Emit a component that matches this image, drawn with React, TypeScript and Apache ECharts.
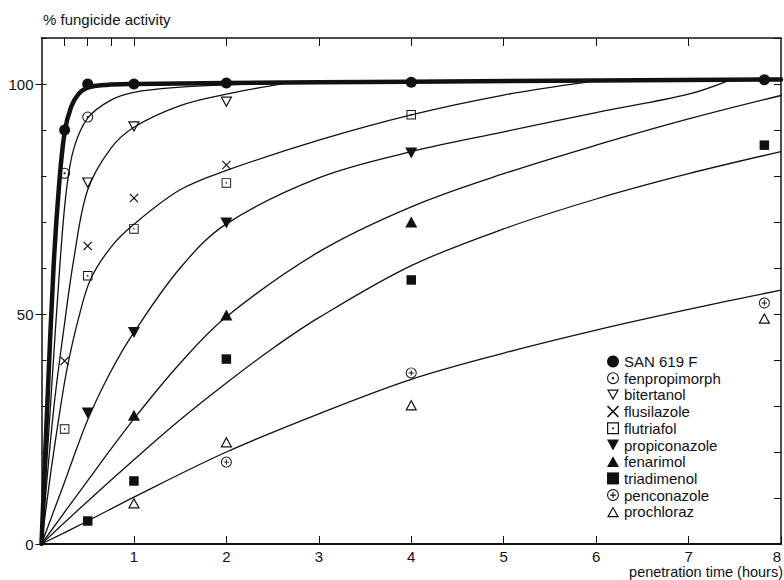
import React, { useEffect, useRef } from "react";
import * as echarts from "echarts";

const FONT = "'Liberation Sans', Arial, Helvetica, sans-serif";
const INK = "#111111";

// ---- tick values ----
const xTopTicks = [0.25, 0.5, 0.75, 1, 2, 3, 4, 5, 6, 7];
const yLabelledTicks = [0, 50, 100];

// ---- legend names ----
const compounds = [
  "SAN 619 F",
  "fenpropimorph",
  "bitertanol",
  "flusilazole",
  "flutriafol",
  "propiconazole",
  "fenarimol",
  "triadimenol",
  "penconazole",
  "prochloraz",
];

// ---- measured points [hours, % activity] ----
const sanPts = [[0.25, 90], [0.5, 100], [1, 100], [2, 100.2], [4, 100.4], [7.82, 100.9]];
const fenpropimorphPts = [[0.25, 80.6], [0.5, 92.8]];
const bitertanolPts = [[0.5, 78.5], [1, 90.7], [2, 96.1]];
const flusilazolePts = [[0.25, 39.8], [0.5, 64.8], [1, 75.2], [2, 82.4]];
const flutriafolPts = [[0.25, 25], [0.5, 58.3], [1, 68.5], [2, 78.5], [4, 93.3]];
const propiconazolePts = [[0.5, 28.5], [1, 46], [2, 69.8], [4, 85]];
const fenarimolPts = [[1, 28], [2, 49.8], [4, 70]];
const triadimenolPts = [[0.5, 5], [1, 13.7], [2, 40.2], [4, 57.4], [7.82, 86.7]];
const penconazolePts = [[2, 17.8], [4, 37.2], [7.82, 52.4]];
const prochlorazPts = [[1, 8.9], [2, 22.2], [4, 30.2], [7.82, 49.1]];

// ---- fitted curves ----
const sanCurve = [[0, 0], [0.06, 29], [0.13, 60], [0.19, 78], [0.25, 89.5], [0.32, 95], [0.4, 97.8], [0.5, 99.2], [0.7, 99.8], [1, 100], [2, 100.2], [4, 100.5], [8, 101]];
const fenpropimorphCurve = [[0, 0], [0.1, 31], [0.2, 61], [0.27, 77], [0.35, 86], [0.5, 92.6], [0.75, 96.5], [1, 98.2], [1.5, 99.3], [2, 99.8], [2.65, 100.2]];
const bitertanolCurve = [[0, 0], [0.13, 29], [0.25, 48], [0.35, 62], [0.5, 77], [0.75, 86], [1, 90.6], [1.5, 95.3], [2, 97.8], [2.65, 100.2]];
const flusFlutCurve = [[0, 0], [0.1, 15.5], [0.2, 29], [0.28, 38.5], [0.4, 49], [0.53, 57.5], [0.75, 64.5], [1, 69.5], [1.5, 77], [2, 81.2], [3, 87.8], [4, 93.3], [5, 97.6], [5.9, 100.4]];
const propiconazoleCurve = [[0, 0], [0.25, 13.5], [0.5, 27], [0.75, 37.5], [1, 46], [1.5, 60], [2, 69.6], [3, 79.6], [4, 85.3], [5, 89.6], [6, 93.8], [7, 97.8], [7.44, 100.8]];
const fenarimolCurve = [[0, 0], [0.5, 13.8], [1, 27.2], [1.5, 39.3], [2, 49.4], [3, 63.5], [4, 73.3], [5, 80.5], [6, 86.7], [7, 92.4], [8, 97.5]];
const triadimenolCurve = [[0, 0], [0.5, 9.3], [1, 18.3], [1.5, 27], [2, 35], [2.5, 42.5], [3, 49.2], [4, 60.5], [5, 68.5], [6, 75], [7, 80.5], [8, 85.3]];
const pencProchCurve = [[0, 0], [0.5, 5], [1, 10.2], [2, 20], [3, 28.3], [4, 35.8], [5, 41.5], [6, 46.5], [7, 51], [8, 55.2]];

// ---- marker shapes ----
const RING_DOT = "path://M10 0A10 10 0 1 1 10 20A10 10 0 1 1 10 0ZM10 1.8A8.2 8.2 0 1 0 10 18.2A8.2 8.2 0 1 0 10 1.8ZM10 8A2 2 0 1 1 10 12A2 2 0 1 1 10 8Z";
const RING_PLUS = "path://M10 0A10 10 0 1 1 10 20A10 10 0 1 1 10 0ZM10 1.8A8.2 8.2 0 1 0 10 18.2A8.2 8.2 0 1 0 10 1.8ZM9.1 5.2L10.9 5.2L10.9 14.8L9.1 14.8ZM5.2 9.1L14.8 9.1L14.8 10.9L5.2 10.9Z";
const SQ_DOT = "path://M0 0L20 0L20 20L0 20ZM2 2L2 18L18 18L18 2ZM8.5 8.5L11.5 8.5L11.5 11.5L8.5 11.5Z";
const TRI_DOWN_OPEN = "path://M0 0L20 0L10 18ZM3.4 2L10 13.9L16.6 2Z";
const TRI_UP_OPEN = "path://M10 0L20 18L0 18ZM10 4.1L3.4 16L16.6 16Z";
const TRI_DOWN = "path://M0 0L20 0L10 18Z";
const TRI_UP = "path://M10 0L20 18L0 18Z";
const CROSS = "path://M0 1.8L1.8 0L10 8.2L18.2 0L20 1.8L11.8 10L20 18.2L18.2 20L10 11.8L1.8 20L0 18.2L8.2 10Z";

function curve(name: string, data: number[][], width = 1.3) {
  return {
    name,
    type: "line",
    data,
    symbol: "none",
    smooth: 0.35,
    silent: true,
    z: 1,
    lineStyle: { color: INK, width, cap: "round", join: "round" },
  };
}

function points(name: string, data: number[][], symbol: string, size: number | number[]) {
  return {
    name,
    type: "scatter",
    data,
    symbol,
    symbolSize: size,
    silent: true,
    z: 3,
    itemStyle: { color: INK, borderWidth: 0, opacity: 1 },
  };
}

const axisLine = { show: true, onZero: false, lineStyle: { color: INK, width: 1.5 } };

const option = {
  animation: false,
  backgroundColor: "#ffffff",
  textStyle: { fontFamily: FONT, color: INK },
  grid: { left: 41.5, right: 1, top: 38, bottom: 36, containLabel: false },
  xAxis: [
    {
      type: "value",
      min: 0,
      max: 8,
      interval: 1,
      position: "bottom",
      axisLine: { show: true, onZero: false, lineStyle: { color: INK, width: 2 } },
      axisTick: { show: true, inside: true, length: 8, lineStyle: { color: INK, width: 1 } },
      axisLabel: {
        show: true,
        showMinLabel: false,
        alignMaxLabel: "right",
        margin: 6,
        fontSize: 15,
        lineHeight: 12,
        color: INK,
        fontFamily: FONT,
      },
      splitLine: { show: false },
    },
    {
      type: "value",
      min: 0,
      max: 8,
      position: "top",
      axisLine,
      axisTick: { show: true, inside: true, length: 8, customValues: xTopTicks, lineStyle: { color: INK, width: 1 } },
      axisLabel: { show: false },
      splitLine: { show: false },
    },
  ],
  yAxis: [
    {
      type: "value",
      min: 0,
      max: 110,
      interval: 10,
      position: "left",
      axisLine,
      axisTick: { show: true, inside: true, length: 5, lineStyle: { color: INK, width: 1 } },
      axisLabel: {
        show: true,
        margin: 8,
        fontSize: 15,
        color: INK,
        fontFamily: FONT,
        formatter: (v: number) => (yLabelledTicks.indexOf(v) >= 0 ? String(v) : ""),
      },
      splitLine: { show: false },
    },
    {
      type: "value",
      min: 0,
      max: 110,
      position: "left",
      axisLine: { show: false, onZero: false },
      axisTick: { show: true, inside: false, length: 6, customValues: yLabelledTicks, lineStyle: { color: INK, width: 1 } },
      axisLabel: { show: false },
      splitLine: { show: false },
    },
    {
      type: "value",
      min: 0,
      max: 110,
      interval: 10,
      position: "right",
      axisLine,
      axisTick: { show: true, inside: true, length: 7, lineStyle: { color: INK, width: 1 } },
      axisLabel: { show: false },
      splitLine: { show: false },
    },
  ],
  legend: {
    data: compounds,
    orient: "vertical",
    left: 602,
    top: 349,
    itemWidth: 12,
    itemHeight: 12,
    itemGap: 1.7,
    selectedMode: false,
    itemStyle: { borderWidth: 0 },
    textStyle: { fontSize: 15, color: INK, fontFamily: FONT, lineHeight: 15 },
  },
  graphic: [
    {
      type: "text",
      x: 43,
      y: 19,
      style: { text: "% fungicide activity", fontSize: 15, fontFamily: FONT, fill: INK, align: "left", verticalAlign: "middle" },
    },
    {
      type: "text",
      x: 783,
      y: 572,
      style: { text: "penetration time (hours)", fontSize: 14.5, lineHeight: 12, fontFamily: FONT, fill: INK, align: "right", verticalAlign: "middle" },
    },
  ],
  series: [
    curve("_c_san", sanCurve, 4.5),
    curve("_c_fenpropimorph", fenpropimorphCurve),
    curve("_c_bitertanol", bitertanolCurve),
    curve("_c_flus_flut", flusFlutCurve),
    curve("_c_propiconazole", propiconazoleCurve),
    curve("_c_fenarimol", fenarimolCurve),
    curve("_c_triadimenol", triadimenolCurve),
    curve("_c_penc_proch", pencProchCurve),
    points(compounds[0], sanPts, "circle", 11),
    points(compounds[1], fenpropimorphPts, RING_DOT, 11),
    points(compounds[2], bitertanolPts, TRI_DOWN_OPEN, [12, 11]),
    points(compounds[3], flusilazolePts, CROSS, 9),
    points(compounds[4], flutriafolPts, SQ_DOT, 9.5),
    points(compounds[5], propiconazolePts, TRI_DOWN, [12, 11]),
    points(compounds[6], fenarimolPts, TRI_UP, [12, 11]),
    points(compounds[7], triadimenolPts, "rect", 9.5),
    points(compounds[8], penconazolePts, RING_PLUS, 11),
    points(compounds[9], prochlorazPts, TRI_UP_OPEN, [12, 11]),
  ],
};

export default function App() {
  const ref = useRef<HTMLDivElement>(null);
  useEffect(() => {
    document.body.style.margin = "0";
    const chart = echarts.init(ref.current as HTMLDivElement, null, { renderer: "svg" });
    chart.setOption(option as any);
    return () => chart.dispose();
  }, []);
  return <div ref={ref} style={{ width: 784, height: 580 }} />;
}
